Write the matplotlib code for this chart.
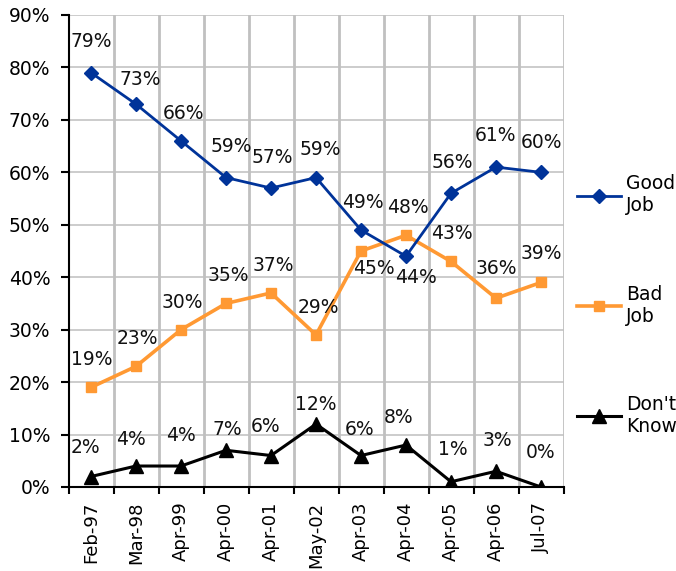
import matplotlib
matplotlib.use("Agg")
import matplotlib.pyplot as plt

categories = ["Feb-97", "Mar-98", "Apr-99", "Apr-00", "Apr-01", "May-02",
              "Apr-03", "Apr-04", "Apr-05", "Apr-06", "Jul-07"]
good_job = [79, 73, 66, 59, 57, 59, 49, 44, 56, 61, 60]
bad_job = [19, 23, 30, 35, 37, 29, 45, 48, 43, 36, 39]
dont_know = [2, 4, 4, 7, 6, 12, 6, 8, 1, 3, 0]
y_ticks = [0, 10, 20, 30, 40, 50, 60, 70, 80, 90]

# label offsets in pixels (dx, dy), positive dy = up
good_off = [(0, 31), (4, 25), (3, 27), (5, 31), (1, 31), (4, 28), (2, 28), (10, -21), (1, 31), (0, 32), (1, 30)]
bad_off = [(1, 28), (1, 28), (1, 27), (2, 28), (2, 27), (2, 27), (13, -17), (2, 28), (1, 28), (0, 30), (0, 29)]
dk_off = [(-6, 29), (-5, 27), (0, 31), (1, 21), (-5, 29), (0, 20), (-1, 26), (-7, 28), (2, 32), (1, 31), (0, 34)]

FS = 13.5
plt.rcParams['font.family'] = ['DejaVu Sans']

fig = plt.figure(figsize=(6.76, 5.71), dpi=100)
ax = fig.add_axes([68.5 / 676, (571 - 487) / 571, 495 / 676, 472 / 571])

x = list(range(len(categories)))
blue = "#003399"
orange = "#FF9933"

ax.plot(x, good_job, color=blue, lw=2.0, marker="D", ms=7.5, zorder=5, label="Good\nJob")
ax.plot(x, bad_job, color=orange, lw=2.6, marker="s", ms=6.5, zorder=4, label="Bad\nJob")
ax.plot(x, dont_know, color="black", lw=2.2, marker="^", ms=10, zorder=6, label="Don't\nKnow")

for series, offs in ((good_job, good_off), (bad_job, bad_off), (dont_know, dk_off)):
    for xi, (v, (dx, dy)) in enumerate(zip(series, offs)):
        ax.annotate(f"{v}%", (xi, v), xytext=(dx, dy), textcoords="offset pixels",
                    ha="center", va="center", fontsize=FS, color="#111111", zorder=10)

ax.set_xlim(-0.5, len(categories) - 0.5)
ax.set_ylim(0, 90)

# gridlines
for b in [i + 0.5 for i in range(len(categories))]:
    ax.axvline(b, color="#c0c0c0", lw=2.0, zorder=1)
ax.set_yticks(y_ticks)
ax.set_yticklabels([f"{t}%" for t in y_ticks], fontsize=FS)
ax.yaxis.grid(True, color="#c8c8c8", lw=1.3, zorder=0)
ax.set_axisbelow(True)

ax.set_xticks(x)
ax.set_xticklabels(categories, rotation=90, fontsize=13)
ax.set_xticks([i - 0.5 for i in range(len(categories) + 1)], minor=True)
ax.tick_params(axis="x", which="major", length=0, pad=10.5)
ax.tick_params(axis="x", which="minor", length=5, width=1.5, direction="out")
ax.tick_params(axis="y", length=6, width=1.5, pad=7)

for s in ("top", "right"):
    ax.spines[s].set_visible(False)
ax.spines["left"].set_linewidth(1.5)
ax.spines["bottom"].set_linewidth(1.5)

leg = fig.legend(loc="center left", bbox_to_anchor=(577 / 676, (571 - 305) / 571),
                 bbox_transform=fig.transFigure, frameon=False, fontsize=FS,
                 handlelength=2.35, handletextpad=0.25, labelspacing=3.7,
                 borderpad=0, borderaxespad=0, numpoints=1)

fig.savefig("out.png", dpi=100)
